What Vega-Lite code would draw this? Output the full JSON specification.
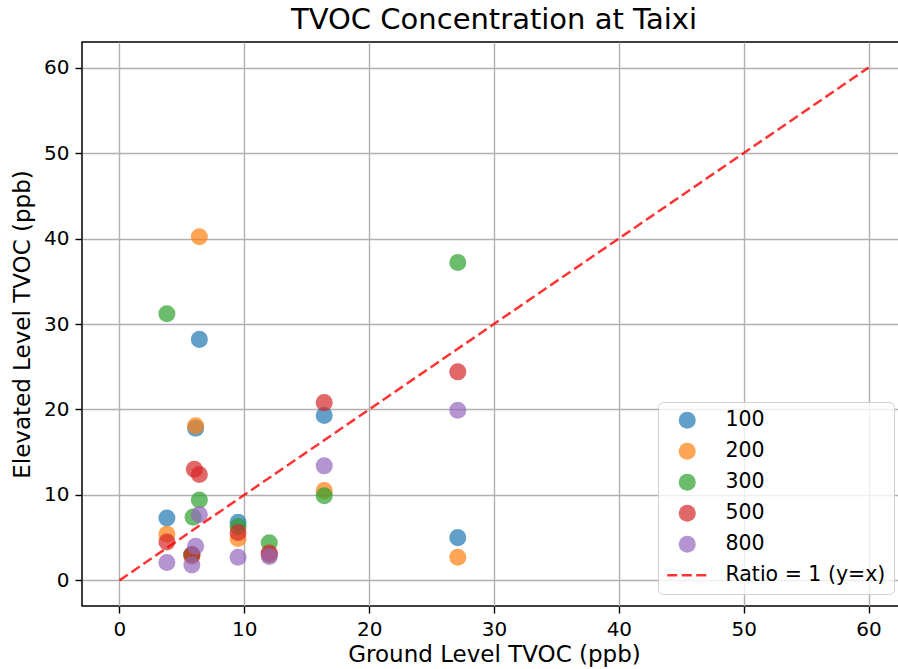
{
  "$schema": "https://vega.github.io/schema/vega-lite/v6.json",
  "width": 824,
  "height": 564,
  "autosize": {"type": "none"},
  "padding": {"left": 82, "top": 42, "right": 0, "bottom": 63},
  "background": "white",
  "title": {"text": "TVOC Concentration at Taixi", "font": "DejaVu Sans", "fontSize": 29, "fontWeight": "normal", "color": "#000000", "anchor": "middle", "offset": 7, "frame": "group"},
  "config": {
    "view": {"stroke": "#000000", "strokeWidth": 1.5},
    "font": "DejaVu Sans",
    "axis": {
      "grid": true, "gridColor": "#b0b0b0", "gridWidth": 1.4, "gridOpacity": 1,
      "domain": false, "tickColor": "#000000", "tickSize": 7, "tickWidth": 1.4,
      "labelFont": "DejaVu Sans", "labelFontSize": 20, "labelColor": "#000000", "labelPadding": 6,
      "titleFont": "DejaVu Sans", "titleFontSize": 23, "titleFontWeight": "normal", "titleColor": "#000000"
    }
  },
  "datasets": {
    "pts": [
      {"ground": 3.8, "elevated": 7.3, "level": "100"},
      {"ground": 5.8, "elevated": 3.0, "level": "100"},
      {"ground": 6.1, "elevated": 17.8, "level": "100"},
      {"ground": 6.4, "elevated": 28.2, "level": "100"},
      {"ground": 9.5, "elevated": 6.8, "level": "100"},
      {"ground": 12.0, "elevated": 3.0, "level": "100"},
      {"ground": 16.4, "elevated": 19.3, "level": "100"},
      {"ground": 27.1, "elevated": 5.0, "level": "100"},
      {"ground": 3.8, "elevated": 5.4, "level": "200"},
      {"ground": 5.8, "elevated": 2.8, "level": "200"},
      {"ground": 6.1, "elevated": 18.1, "level": "200"},
      {"ground": 6.4, "elevated": 40.2, "level": "200"},
      {"ground": 9.5, "elevated": 4.9, "level": "200"},
      {"ground": 12.0, "elevated": 3.0, "level": "200"},
      {"ground": 16.4, "elevated": 10.5, "level": "200"},
      {"ground": 27.1, "elevated": 2.7, "level": "200"},
      {"ground": 3.8, "elevated": 31.2, "level": "300"},
      {"ground": 5.8, "elevated": 3.0, "level": "300"},
      {"ground": 5.9, "elevated": 7.4, "level": "300"},
      {"ground": 6.4, "elevated": 9.4, "level": "300"},
      {"ground": 9.5, "elevated": 6.3, "level": "300"},
      {"ground": 12.0, "elevated": 4.4, "level": "300"},
      {"ground": 16.4, "elevated": 9.9, "level": "300"},
      {"ground": 27.1, "elevated": 37.2, "level": "300"},
      {"ground": 3.8, "elevated": 4.5, "level": "500"},
      {"ground": 5.8, "elevated": 3.0, "level": "500"},
      {"ground": 6.0, "elevated": 13.0, "level": "500"},
      {"ground": 6.4, "elevated": 12.4, "level": "500"},
      {"ground": 9.5, "elevated": 5.6, "level": "500"},
      {"ground": 12.0, "elevated": 3.2, "level": "500"},
      {"ground": 16.4, "elevated": 20.8, "level": "500"},
      {"ground": 27.1, "elevated": 24.4, "level": "500"},
      {"ground": 3.8, "elevated": 2.1, "level": "800"},
      {"ground": 5.8, "elevated": 1.8, "level": "800"},
      {"ground": 6.1, "elevated": 4.0, "level": "800"},
      {"ground": 6.4, "elevated": 7.7, "level": "800"},
      {"ground": 9.5, "elevated": 2.7, "level": "800"},
      {"ground": 12.0, "elevated": 2.8, "level": "800"},
      {"ground": 16.4, "elevated": 13.4, "level": "800"},
      {"ground": 27.1, "elevated": 19.9, "level": "800"}
    ],
    "ref": [
      {"ground": 0, "elevated": 0, "level": "Ratio = 1 (y=x)"},
      {"ground": 60, "elevated": 60, "level": "Ratio = 1 (y=x)"}
    ]
  },
  "layer": [
    {
      "data": {"name": "pts"},
      "mark": {"type": "point", "filled": true, "shape": "circle", "size": 290, "opacity": 0.7},
      "encoding": {
        "x": {"field": "ground", "type": "quantitative", "scale": {"domain": [-3, 63], "nice": false, "zero": false}, "axis": {"values": [0, 10, 20, 30, 40, 50, 60], "title": "Ground Level TVOC (ppb)", "titlePadding": 4}},
        "y": {"field": "elevated", "type": "quantitative", "scale": {"domain": [-3, 63], "nice": false, "zero": false}, "axis": {"values": [0, 10, 20, 30, 40, 50, 60], "title": "Elevated Level TVOC (ppb)", "titlePadding": 9}},
        "color": {
          "field": "level", "type": "nominal",
          "scale": {"domain": ["100", "200", "300", "500", "800", "Ratio = 1 (y=x)"], "range": ["#1f77b4", "#ff7f0e", "#2ca02c", "#d62728", "#9467bd", "#ff0000"]},
          "legend": {
            "title": null, "orient": "bottom-right", "offset": 12,
            "labelFontSize": 20.5, "labelFont": "DejaVu Sans", "labelColor": "#000000", "labelLimit": 400,
            "symbolSize": 290, "symbolOpacity": 0.7, "rowPadding": 10, "labelOffset": 28, "symbolOffset": 11,
            "padding": 8, "fillColor": "rgba(255,255,255,0.8)", "strokeColor": "#d0d0d0", "cornerRadius": 5,
            "encode": {
              "symbols": {
                "update": {
                  "shape": {"signal": "datum.value === 'Ratio = 1 (y=x)' ? 'stroke' : 'circle'"},
                  "stroke": {"signal": "datum.value === 'Ratio = 1 (y=x)' ? '#ff0000' : 'transparent'"},
                  "strokeWidth": {"signal": "datum.value === 'Ratio = 1 (y=x)' ? 2.5 : 0"},
                  "strokeDash": {"signal": "datum.value === 'Ratio = 1 (y=x)' ? [10, 4.5] : []"},
                  "size": {"signal": "datum.value === 'Ratio = 1 (y=x)' ? 1600 : 290"},
                  "opacity": {"signal": "datum.value === 'Ratio = 1 (y=x)' ? 0.8 : 0.7"}
                }
              }
            }
          }
        }
      }
    },
    {
      "data": {"name": "ref"},
      "mark": {"type": "line", "strokeDash": [10, 4.5], "strokeWidth": 2.5, "opacity": 0.8, "color": "#ff0000"},
      "encoding": {
        "x": {"field": "ground", "type": "quantitative"},
        "y": {"field": "elevated", "type": "quantitative"}
      }
    }
  ]
}
